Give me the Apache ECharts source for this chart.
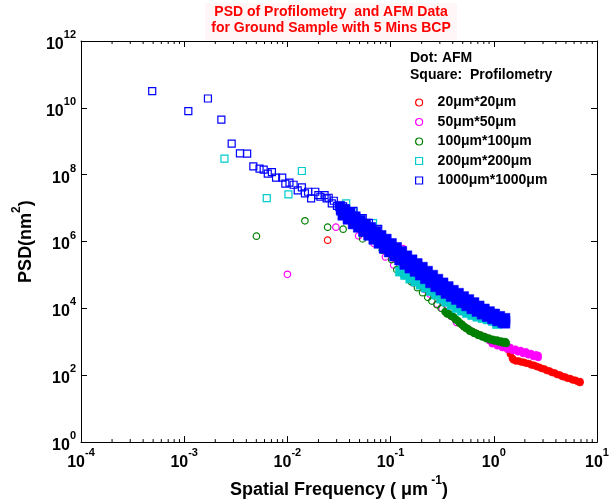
<!DOCTYPE html>
<html><head><meta charset="utf-8">
<script src="https://cdn.jsdelivr.net/npm/echarts@6/dist/echarts.min.js"></script>
<style>html,body{margin:0;padding:0;background:#fff}#c{width:615px;height:504px}</style>
</head><body><div id="c"></div>
<script>
// Values, stored as [log10(frequency µm^-1), log10(PSD nm^2)]
const afm20Sparse = [[-1.61,6.04],[-1.13,6.22],[-0.90,5.55],[-0.78,4.77],[-0.65,4.58],[-0.56,4.42],[-0.49,4.27]];
const afm20Band = [[-0.45,3.84],[-0.41,3.77],[-0.37,3.67],[-0.33,3.56],[-0.29,3.46],[-0.25,3.38],[-0.21,3.31],[-0.17,3.25],[-0.13,3.20],[-0.09,3.15],[-0.05,3.10],[-0.01,3.05],[0.03,2.98],[0.06,2.91],[0.085,2.84],[0.11,2.86],[0.135,2.78],[0.16,2.64],[0.18,2.51],[0.19,2.46],[0.215,2.43],[0.24,2.43],[0.265,2.40],[0.29,2.39],[0.315,2.36],[0.34,2.35],[0.365,2.31],[0.39,2.30],[0.415,2.26],[0.44,2.24],[0.465,2.20],[0.49,2.19],[0.515,2.14],[0.54,2.13],[0.565,2.08],[0.59,2.07],[0.615,2.02],[0.64,2.01],[0.665,1.96],[0.69,1.95],[0.715,1.91],[0.74,1.90],[0.765,1.86],[0.79,1.85],[0.815,1.81],[0.835,1.81],[0.835,1.78]];

const afm50Sparse = [[-2.00,5.02],[-1.53,6.43],[-1.31,6.17],[-1.16,5.94],[-1.05,5.54],[-0.97,5.30],[-0.88,5.79],[-0.82,5.00],[-0.77,4.86],[-0.72,4.72],[-0.67,4.57],[-0.62,4.43],[-0.55,4.13],[-0.50,4.00],[-0.45,3.86],[-0.41,3.76],[-0.36,3.58],[-0.31,3.52],[-0.27,3.42],[-0.23,3.34],[-0.19,3.27],[-0.15,3.21],[-0.11,3.16],[-0.07,3.11]];
const afm50Band = [[-0.04,3.03],[-0.015,2.94],[0.01,2.97],[0.035,2.88],[0.06,2.91],[0.085,2.83],[0.11,2.87],[0.135,2.78],[0.16,2.83],[0.185,2.74],[0.21,2.78],[0.235,2.70],[0.26,2.74],[0.285,2.65],[0.31,2.70],[0.335,2.61],[0.36,2.65],[0.385,2.56],[0.41,2.61],[0.43,2.53],[0.43,2.59]];

const afm100Sparse = [[-2.30,6.16],[-1.83,6.62],[-1.61,6.43],[-1.46,6.37],[-1.27,6.08],[-1.19,6.25],[-1.13,6.10],[-1.08,5.74],[-1.02,5.80],[-0.99,5.46],[-0.94,5.16],[-0.87,4.98],[-0.80,4.80],[-0.74,4.62],[-0.69,4.47],[-0.64,4.33],[-0.60,4.22],[-0.55,4.11],[-0.51,4.00]];
const afm100Band = [[-0.47,3.90],[-0.45,3.84],[-0.43,3.83],[-0.41,3.77],[-0.39,3.74],[-0.37,3.67],[-0.35,3.63],[-0.33,3.56],[-0.31,3.52],[-0.29,3.46],[-0.27,3.41],[-0.25,3.38],[-0.23,3.32],[-0.21,3.31],[-0.19,3.26],[-0.17,3.25],[-0.15,3.20],[-0.13,3.20],[-0.11,3.15],[-0.09,3.15],[-0.07,3.10],[-0.05,3.11],[-0.03,3.06],[-0.01,3.07],[0.01,3.03],[0.03,3.05],[0.05,3.00],[0.07,3.02],[0.09,2.97],[0.11,3.00],[0.12,2.96]];

const prof200Sparse = [[-2.61,8.48],[-2.20,7.30],[-1.99,7.41],[-1.86,8.11],[-1.43,7.14],[-1.36,6.90],[-1.30,6.70],[-1.17,6.55],[-1.10,6.15],[-1.02,5.95],[-0.96,5.70]];
const prof200Band = [[-0.91,5.10],[-0.86,5.00],[-0.81,4.89],[-0.76,4.80],[-0.71,4.71],[-0.66,4.62],[-0.61,4.52],[-0.56,4.41],[-0.51,4.29],[-0.46,4.20],[-0.41,4.10],[-0.36,4.01],[-0.31,3.93],[-0.26,3.86],[-0.21,3.80],[-0.16,3.75],[-0.11,3.71],[-0.06,3.67],[-0.01,3.62],[0.03,3.53],
[-0.885,5.24],[-0.835,5.13],[-0.785,5.03],[-0.735,4.94],[-0.685,4.85],[-0.635,4.75],[-0.585,4.64],[-0.535,4.53],[-0.485,4.43],[-0.435,4.34],[-0.385,4.24],[-0.335,4.15],[-0.285,4.07],[-0.235,4.00],[-0.185,3.94],[-0.135,3.89],[-0.085,3.84],[-0.035,3.79],[0.015,3.72],[0.03,3.62]];

const prof1000Sparse = [[-3.31,10.50],[-2.96,9.90],[-2.77,10.28],[-2.64,9.65],[-2.54,8.93],[-2.46,8.64],[-2.39,8.63],[-2.33,8.25],[-2.27,8.18],[-2.23,8.15],[-2.19,8.03],[-2.15,8.08],[-2.11,7.91],[-2.05,7.91],[-2.02,7.73],[-1.98,7.76],[-1.94,7.70],[-1.90,7.53],[-1.86,7.62],[-1.83,7.44],[-1.80,7.49],[-1.77,7.29],[-1.73,7.49],[-1.70,7.39],[-1.68,7.34],[-1.64,7.39],[-1.62,7.29],[-1.60,7.31],[-1.57,7.14],[-1.55,7.22],[-1.52,7.07],[-1.49,6.94],[-1.46,7.05],[-1.44,6.99],[-1.41,6.84],[-1.38,6.79],[-1.36,6.92],[-1.33,6.70],[-1.27,6.70],[-1.21,6.56],[-1.12,6.38]];
const prof1000Band = [[-1.49,7.06],[-1.44,6.96],[-1.39,6.86],[-1.34,6.75],[-1.29,6.64],[-1.24,6.53],[-1.19,6.43],[-1.14,6.31],[-1.09,6.19],[-1.04,6.08],[-0.99,5.95],[-0.94,5.83],[-0.89,5.71],[-0.84,5.58],[-0.79,5.46],[-0.74,5.35],[-0.69,5.24],[-0.64,5.12],[-0.59,5.00],[-0.54,4.88],[-0.49,4.77],[-0.44,4.66],[-0.39,4.55],[-0.34,4.46],[-0.29,4.36],[-0.24,4.27],[-0.19,4.18],[-0.14,4.08],[-0.09,3.99],[-0.04,3.91],[0.01,3.84],[0.06,3.77],[0.11,3.71],
[-1.48,6.93],[-1.43,6.82],[-1.38,6.70],[-1.33,6.59],[-1.28,6.47],[-1.23,6.36],[-1.18,6.25],[-1.13,6.13],[-1.08,6.00],[-1.03,5.88],[-0.98,5.76],[-0.93,5.64],[-0.88,5.51],[-0.83,5.39],[-0.78,5.28],[-0.73,5.17],[-0.68,5.06],[-0.63,4.94],[-0.58,4.83],[-0.53,4.72],[-0.48,4.61],[-0.43,4.51],[-0.38,4.41],[-0.33,4.31],[-0.28,4.22],[-0.23,4.13],[-0.18,4.04],[-0.13,3.96],[-0.08,3.88],[-0.03,3.80],[0.02,3.73],[0.07,3.67],[0.11,3.63],
[-1.465,6.78],[-1.415,6.66],[-1.365,6.52],[-1.315,6.42],[-1.265,6.29],[-1.215,6.18],[-1.165,6.06],[-1.115,5.94],[-1.065,5.79],[-1.015,5.68],[-0.965,5.56],[-0.915,5.44],[-0.865,5.31],[-0.815,5.20],[-0.765,5.10],[-0.715,4.99],[-0.665,4.88],[-0.615,4.76],[-0.565,4.64],[-0.515,4.54],[-0.465,4.44],[-0.415,4.35],[-0.365,4.26],[-0.315,4.16],[-0.265,4.07],[-0.215,3.98],[-0.165,3.90],[-0.115,3.82],[-0.065,3.75],[-0.015,3.68],[0.035,3.62],[0.085,3.57],[0.11,3.55]];

const seriesNames = ['20μm*20μm','50μm*50μm','100μm*100μm','200μm*200μm','1000μm*1000μm'];
const xMinorTicks = [2e-4,3e-4,4e-4,5e-4,6e-4,7e-4,8e-4,9e-4,2e-3,3e-3,4e-3,5e-3,6e-3,7e-3,8e-3,9e-3,2e-2,3e-2,4e-2,5e-2,6e-2,7e-2,8e-2,9e-2,0.2,0.3,0.4,0.5,0.6,0.7,0.8,0.9,2,3,4,5,6,7,8,9];

const F = '"Liberation Sans", Arial, Helvetica, sans-serif';
const COLORS = ['#ff0000','#ff00ff','#008000','#00cccc','#0000ff'];
const SYMS = ['circle','circle','circle','rect','rect'];
const SIZES = [6.5,6.5,6.5,7,7];
const BAND_SIZES = [7,7,7.5,9,9.5];

const toVal = arr => arr.map(p => [Math.pow(10,p[0]), Math.pow(10,p[1])]);
function sparse(i, d){ return {type:'scatter', name:seriesNames[i], data:toVal(d), symbol:SYMS[i], symbolSize:SIZES[i],
  itemStyle:{color:'rgba(0,0,0,0)', borderColor:COLORS[i], borderWidth:1.2, opacity:1}, silent:true, emphasis:{disabled:true}}; }
function band(i, d){ return {type:'scatter', name:seriesNames[i], data:toVal(d), symbol:SYMS[i], symbolSize:BAND_SIZES[i],
  itemStyle:{color:COLORS[i], borderColor:COLORS[i], borderWidth:0.5, opacity:1}, silent:true, emphasis:{disabled:true}}; }

const labelFmt = v => '{b|10}{s|' + Math.round(Math.log10(v)) + '}';
const labRich = {
  b:{fontSize:16, fontWeight:'bold', fontFamily:F, color:'#000', padding:[7,0,0,0]},
  s:{fontSize:11, fontWeight:'bold', fontFamily:F, color:'#000', verticalAlign:'top'}
};
const axLine = {show:true, lineStyle:{color:'#000', width:1}};

const chart = echarts.init(document.getElementById('c'), null, {renderer:'canvas'});
chart.setOption({
  animation:false,
  backgroundColor:'#fff',
  grid:{left:81, right:18, top:41, bottom:58, containLabel:false},
  xAxis:[
    {type:'log', logBase:10, min:1e-4, max:10, interval:1, position:'bottom',
     axisLine:axLine, axisTick:{inside:true, length:6, lineStyle:{color:'#000'}}, splitLine:{show:false},
     axisLabel:{formatter:labelFmt, rich:labRich, margin:5},
     name:'{a|Spatial Frequency ( }{m|μm}{s| -1}{a|)}', nameLocation:'middle', nameGap:28,
     nameTextStyle:{rich:{
       a:{fontSize:18, fontWeight:'bold', fontFamily:F, color:'#000', padding:[6,0,0,0]},
       m:{fontSize:18, fontWeight:'bold', fontFamily:F, color:'#000', padding:[6,0,0,0]},
       s:{fontSize:12, fontWeight:'bold', fontFamily:F, color:'#000', verticalAlign:'top'}}}},
    {type:'log', logBase:10, min:1e-4, max:10, interval:1, position:'top',
     axisLine:axLine, axisTick:{inside:true, length:6, lineStyle:{color:'#000'}}, splitLine:{show:false}, axisLabel:{show:false}}
  ],
  yAxis:[
    {type:'log', logBase:10, min:1, max:1e12, interval:2, position:'left',
     axisLine:axLine, axisTick:{inside:true, length:6, lineStyle:{color:'#000'}}, splitLine:{show:false},
     axisLabel:{formatter:labelFmt, rich:labRich, margin:5},
     name:'{a|PSD(nm}{s|2}{a|)}', nameLocation:'middle', nameGap:46, nameRotate:90,
     nameTextStyle:{rich:{
       a:{fontSize:18, fontWeight:'bold', fontFamily:F, color:'#000', padding:[6,0,0,0]},
       s:{fontSize:12, fontWeight:'bold', fontFamily:F, color:'#000', verticalAlign:'top'}}}},
    {type:'log', logBase:10, min:1, max:1e12, interval:2, position:'right',
     axisLine:axLine, axisTick:{inside:true, length:6, lineStyle:{color:'#000'}}, splitLine:{show:false}, axisLabel:{show:false}}
  ],
  legend:{
    orient:'vertical', left:410, top:90.5, itemWidth:7, itemHeight:7, itemGap:5.5, selectedMode:false,
    textStyle:{fontSize:14, fontWeight:'bold', fontFamily:F, color:'#000', lineHeight:14, padding:[0,0,0,10]},
    data: seriesNames.map((n,i)=>({name:n, icon:SYMS[i], itemStyle:{color:'rgba(0,0,0,0)', borderColor:COLORS[i], borderWidth:1.2, opacity:1}}))
  },
  graphic:[
    {type:'rect', shape:{x:205, y:3, width:252, height:37}, style:{fill:'#fff7f7'}, z:-10, silent:true},
    {type:'text', x:331, y:12, silent:true, style:{text:'PSD of Profilometry  and AFM Data', fill:'#ff0000', font:'bold 14px '+F, align:'center', verticalAlign:'middle'}},
    {type:'text', x:331, y:28, silent:true, style:{text:'for Ground Sample with 5 Mins BCP', fill:'#ff0000', font:'bold 14px '+F, align:'center', verticalAlign:'middle'}},
    {type:'text', x:410, y:58, silent:true, style:{text:'Dot: AFM', fill:'#000', font:'bold 14px '+F, align:'left', verticalAlign:'middle'}},
    {type:'text', x:410, y:75, silent:true, style:{text:'Square:  Profilometry', fill:'#000', font:'bold 14px '+F, align:'left', verticalAlign:'middle'}}
  ],
  series:[
    sparse(0, afm20Sparse), band(0, afm20Band),
    sparse(1, afm50Sparse), band(1, afm50Band),
    sparse(2, afm100Sparse), band(2, afm100Band),
    sparse(3, prof200Sparse), band(3, prof200Band),
    sparse(4, prof1000Sparse), band(4, prof1000Band),
    {type:'custom', name:'minorTicks', silent:true, clip:false, z:5,
     data: xMinorTicks.map(v=>[v,1]),
     renderItem:(params, api)=>{
       const v = api.value(0);
       const b = api.coord([v, 1]);
       const t = api.coord([v, 1e12]);
       return {type:'group', children:[
         {type:'line', shape:{x1:b[0], y1:b[1], x2:b[0], y2:b[1]-3}, style:{stroke:'#000', lineWidth:1}},
         {type:'line', shape:{x1:t[0], y1:t[1], x2:t[0], y2:t[1]+3}, style:{stroke:'#000', lineWidth:1}}
       ]};
     }}
  ]
});
</script></body></html>
